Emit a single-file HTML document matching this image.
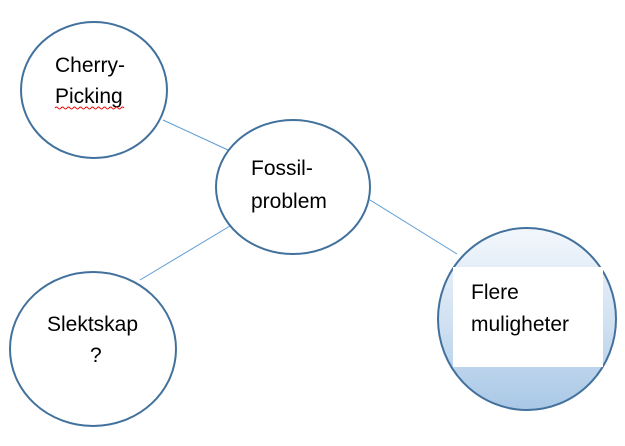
<!DOCTYPE html>
<html><head><meta charset="utf-8"><style>
html,body{margin:0;padding:0;background:#fff;}
svg text{font-family:"Liberation Sans",Arial,sans-serif;font-size:21px;fill:#000;}
</style></head><body>
<svg width="625" height="441" viewBox="0 0 625 441" xmlns="http://www.w3.org/2000/svg">
<defs>
<linearGradient id="g" x1="0" y1="0" x2="0" y2="1">
<stop offset="0" stop-color="#f3f7fc"/>
<stop offset="0.5" stop-color="#d2e2f2"/>
<stop offset="1" stop-color="#a9c8e6"/>
</linearGradient>
</defs>
<g stroke="#5b9bd5" stroke-width="1">
<line x1="163" y1="120" x2="228" y2="150"/>
<line x1="140" y1="280" x2="230" y2="226"/>
<line x1="370" y1="200" x2="457" y2="254"/>
</g>
<g stroke="#41719c" stroke-width="2" fill="#fff">
<ellipse cx="94" cy="90" rx="73" ry="68"/>
<ellipse cx="293" cy="187" rx="77" ry="67"/>
<ellipse cx="93" cy="349" rx="83" ry="77"/>
<ellipse cx="527" cy="319" rx="89" ry="91" fill="url(#g)"/>
</g>
<rect x="453" y="267" width="150" height="100" fill="#fff"/>
<text x="55" y="72">Cherry-</text>
<text x="55" y="103">Picking</text>
<path d="M55 108 q1.5 -2 3 0 t3 0 t3 0 t3 0 t3 0 t3 0 t3 0 t3 0 t3 0 t3 0 t3 0 t3 0 t3 0 t3 0 t3 0 t3 0 t3 0 t3 0 t3 0 t3 0 t3 0 t3 0 t3 0" stroke="#e00" stroke-width="1" fill="none"/>
<text x="251" y="175">Fossil-</text>
<text x="251" y="208">problem</text>
<text x="47" y="331">Slektskap</text>
<text x="90" y="362">?</text>
<text x="471" y="299">Flere</text>
<text x="471" y="331">muligheter</text>
</svg>
</body></html>
